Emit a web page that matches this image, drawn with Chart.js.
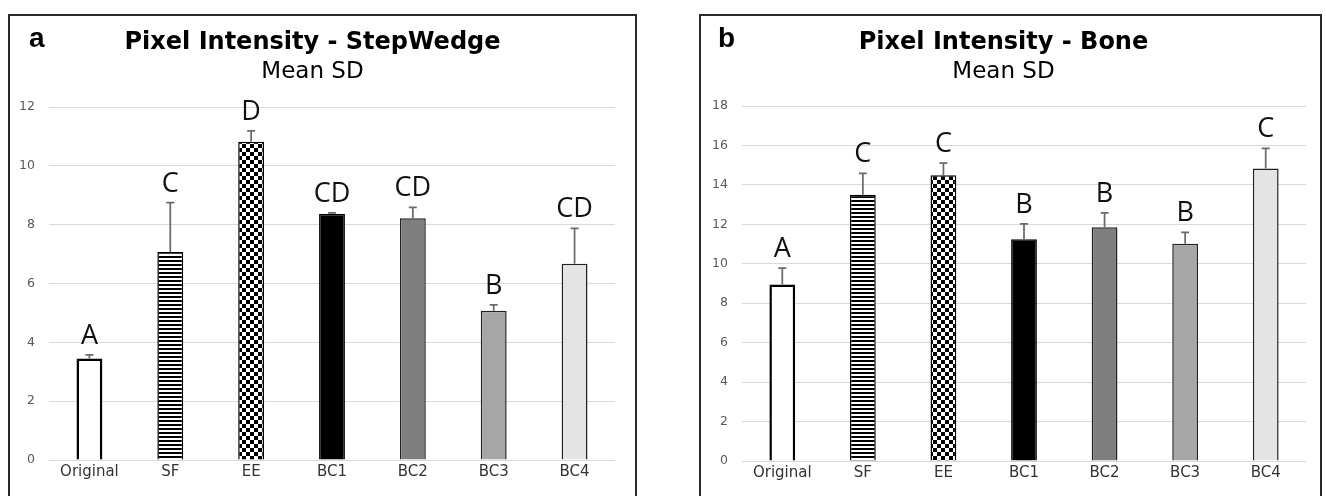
<!DOCTYPE html>
<html>
<head>
<meta charset="utf-8">
<script src="https://cdn.jsdelivr.net/npm/chart.js@4.4.0/dist/chart.umd.min.js"></script>
<style>
  html, body { margin: 0; padding: 0; background: #fff; overflow: hidden; }
  body { width: 1326px; height: 496px; position: relative; }
  .panel { position: absolute; top: 14px; height: 500px; border: 2px solid #2b2b2b; background: #fff; }
  #panel-a { left: 8px; width: 625px; }
  #panel-b { left: 699px; width: 619px; }
  .wrap { position: relative; width: 100%; height: 480px; }
</style>
</head>
<body>
<div class="panel" id="panel-a"><div class="wrap"><canvas id="chart-a"></canvas></div></div>
<div class="panel" id="panel-b"><div class="wrap"><canvas id="chart-b"></canvas></div></div>
<script>
const categories = ['Original', 'SF', 'EE', 'BC1', 'BC2', 'BC3', 'BC4'];

const stepWedgeMeans = [3.45, 7.07, 10.82, 8.36, 8.22, 5.07, 6.67];
const stepWedgeSD = [0.12, 1.68, 0.37, 0.04, 0.37, 0.20, 1.20];
const stepWedgeGroups = ['A', 'C', 'D', 'CD', 'CD', 'B', 'CD'];
const stepWedgeTicks = [0, 2, 4, 6, 8, 10, 12];

const boneMeans = [8.95, 13.50, 14.49, 11.24, 11.85, 11.02, 14.83];
const boneSD = [0.83, 1.09, 0.61, 0.78, 0.73, 0.57, 1.02];
const boneGroups = ['A', 'C', 'C', 'B', 'B', 'B', 'C'];
const boneTicks = [0, 2, 4, 6, 8, 10, 12, 14, 16, 18];

Chart.defaults.font.family = '"DejaVu Sans", Verdana, sans-serif';

function stripePattern() {
  const c = document.createElement('canvas');
  c.width = 4; c.height = 4;
  const g = c.getContext('2d');
  g.fillStyle = '#fff';
  g.fillRect(0, 0, 4, 4);
  g.fillStyle = '#000';
  g.fillRect(0, 0, 4, 2);
  return g.createPattern(c, 'repeat');
}

function checkerPattern() {
  const c = document.createElement('canvas');
  c.width = 8; c.height = 8;
  const g = c.getContext('2d');
  g.fillStyle = '#fff';
  g.fillRect(0, 0, 8, 8);
  g.fillStyle = '#000';
  g.fillRect(0, 0, 4, 4);
  g.fillRect(4, 4, 4, 4);
  return g.createPattern(c, 'repeat');
}

const barFills = ['#ffffff', stripePattern(), checkerPattern(), '#000000', '#7f7f7f', '#a6a6a6', '#e4e4e4'];
const barBorders = ['#000', '#000', '#000', '#000', '#222', '#222', '#222'];
const barBorderWidths = [2.5, 1.5, 1.5, 1.5, 1.5, 1.5, 1.5];

// upward-only SD whiskers plus the significance letters above them
const errorBarPlugin = {
  id: 'errorBars',
  afterDatasetsDraw(chart, args, opts) {
    const { ctx, scales: { y } } = chart;
    const means = chart.data.datasets[0].data;
    const meta = chart.getDatasetMeta(0);
    ctx.save();
    meta.data.forEach((bar, i) => {
      const top = y.getPixelForValue(means[i] + opts.sd[i]);
      ctx.strokeStyle = '#6b6b6b';
      ctx.lineWidth = 1.75;
      ctx.beginPath();
      ctx.moveTo(bar.x, bar.y);
      ctx.lineTo(bar.x, top);
      ctx.moveTo(bar.x - 4, top);
      ctx.lineTo(bar.x + 4, top);
      ctx.stroke();

      ctx.fillStyle = '#111';
      ctx.font = '27px "Open Sans", sans-serif';
      ctx.textAlign = 'center';
      ctx.textBaseline = 'alphabetic';
      ctx.fillText(opts.groups[i], bar.x, top - 11);
    });
    ctx.restore();
  }
};

const panelLetterPlugin = {
  id: 'panelLetter',
  afterDraw(chart, args, opts) {
    const { ctx } = chart;
    ctx.save();
    ctx.fillStyle = '#000';
    ctx.font = 'bold 28px "Liberation Sans", Arial, sans-serif';
    ctx.textAlign = 'left';
    ctx.textBaseline = 'alphabetic';
    ctx.fillText(opts.text, opts.x, opts.y);
    ctx.restore();
  }
};

function buildChart(id, p) {
  return new Chart(document.getElementById(id), {
    type: 'bar',
    data: {
      labels: categories,
      datasets: [{
        data: p.means,
        backgroundColor: barFills,
        borderColor: barBorders,
        borderWidth: barBorderWidths,
        barPercentage: 0.32,
        categoryPercentage: 1
      }]
    },
    options: {
      responsive: true,
      maintainAspectRatio: false,
      animation: false,
      layout: { padding: { left: 0, right: p.padRight, top: 0, bottom: p.padBottom } },
      plugins: {
        legend: { display: false },
        tooltip: { enabled: false },
        title: {
          display: true,
          text: p.title,
          color: '#000',
          font: { size: 24, weight: 'bold' },
          padding: { top: 12, bottom: 0 }
        },
        subtitle: {
          display: true,
          text: 'Mean SD',
          color: '#000',
          font: { size: 23 },
          padding: { top: 1, bottom: p.subGap }
        },
        errorBars: { sd: p.sd, groups: p.groups },
        panelLetter: { text: p.letter, x: p.letterX, y: 31 }
      },
      scales: {
        x: {
          grid: { display: false, drawTicks: false },
          border: { display: false },
          ticks: { color: '#333', font: { size: 15 }, padding: 3 }
        },
        y: {
          min: 0,
          max: p.ticks[p.ticks.length - 1],
          afterFit: s => { s.width = p.axisWidth; },
          afterBuildTicks: s => { s.ticks = p.ticks.map(v => ({ value: v })); },
          grid: { color: '#d9d9d9', lineWidth: 1, drawTicks: false },
          border: { display: false },
          ticks: { color: '#595959', font: { size: 12.5 }, padding: 14 }
        }
      }
    },
    plugins: [errorBarPlugin, panelLetterPlugin]
  });
}

buildChart('chart-a', {
  title: 'Pixel Intensity - StepWedge',
  letter: 'a', letterX: 19,
  means: stepWedgeMeans, sd: stepWedgeSD, groups: stepWedgeGroups, ticks: stepWedgeTicks,
  axisWidth: 39, padRight: 20, padBottom: 12, subGap: 21.6
});

buildChart('chart-b', {
  title: 'Pixel Intensity - Bone',
  letter: 'b', letterX: 17,
  means: boneMeans, sd: boneSD, groups: boneGroups, ticks: boneTicks,
  axisWidth: 41, padRight: 14, padBottom: 11, subGap: 20.6
});
</script>
</body>
</html>
